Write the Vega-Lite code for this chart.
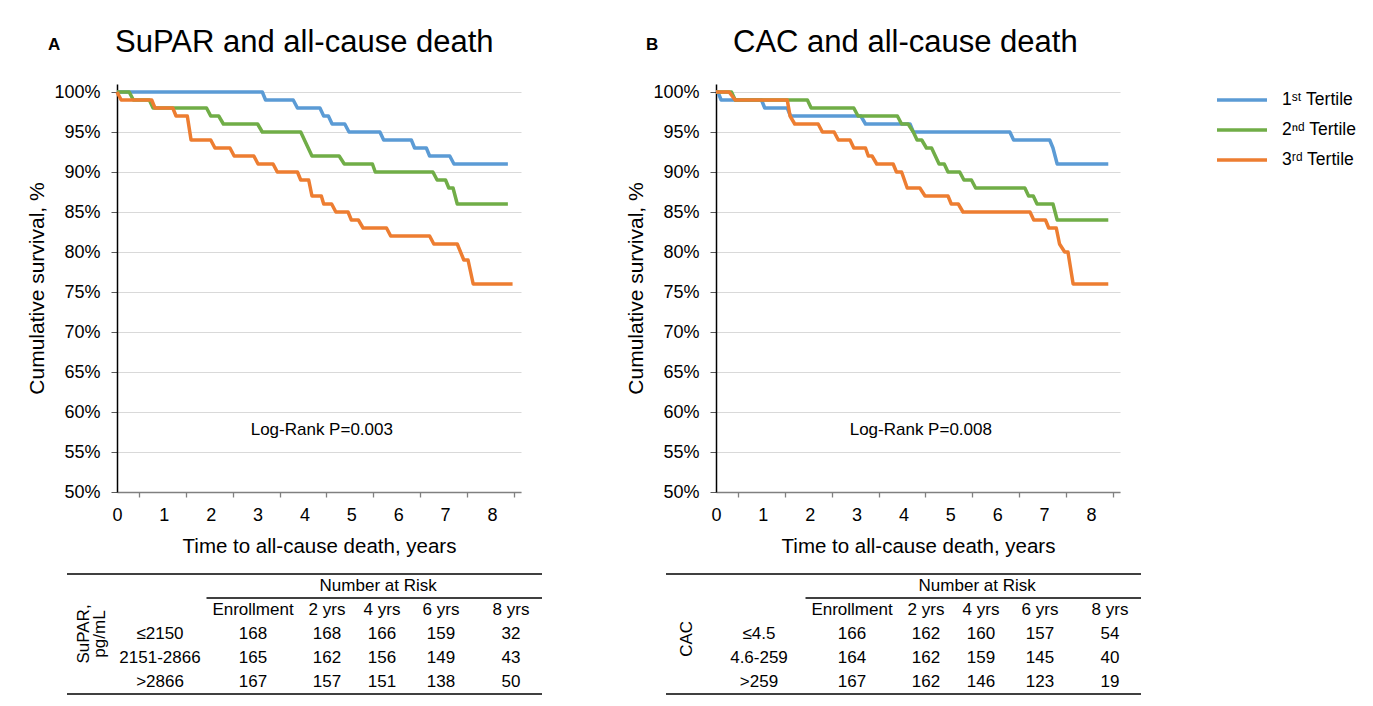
{
  "$schema": "https://vega.github.io/schema/vega-lite/v6.json",
  "background": "white",
  "padding": {"left": 26, "top": 27, "right": 0, "bottom": 0},
  "config": {"font": "Liberation Sans", "view": {"stroke": null}},
  "datasets": {
    "kmA": [
      {"g":"1st Tertile","t":0,"s":100},{"g":"1st Tertile","t":3.10,"s":100},{"g":"1st Tertile","t":3.17,"s":99},{"g":"1st Tertile","t":3.76,"s":99},{"g":"1st Tertile","t":3.85,"s":98},{"g":"1st Tertile","t":4.33,"s":98},{"g":"1st Tertile","t":4.41,"s":97},{"g":"1st Tertile","t":4.51,"s":97},{"g":"1st Tertile","t":4.59,"s":96},{"g":"1st Tertile","t":4.86,"s":96},{"g":"1st Tertile","t":4.95,"s":95},{"g":"1st Tertile","t":5.61,"s":95},{"g":"1st Tertile","t":5.69,"s":94},{"g":"1st Tertile","t":6.28,"s":94},{"g":"1st Tertile","t":6.35,"s":93},{"g":"1st Tertile","t":6.60,"s":93},{"g":"1st Tertile","t":6.67,"s":92},{"g":"1st Tertile","t":7.10,"s":92},{"g":"1st Tertile","t":7.19,"s":91},{"g":"1st Tertile","t":8.34,"s":91},
      {"g":"2nd Tertile","t":0,"s":100},{"g":"2nd Tertile","t":0.26,"s":100},{"g":"2nd Tertile","t":0.35,"s":99},{"g":"2nd Tertile","t":0.69,"s":99},{"g":"2nd Tertile","t":0.77,"s":98},{"g":"2nd Tertile","t":1.91,"s":98},{"g":"2nd Tertile","t":2.00,"s":97},{"g":"2nd Tertile","t":2.17,"s":97},{"g":"2nd Tertile","t":2.27,"s":96},{"g":"2nd Tertile","t":3.00,"s":96},{"g":"2nd Tertile","t":3.10,"s":95},{"g":"2nd Tertile","t":3.92,"s":95},{"g":"2nd Tertile","t":4.16,"s":92},{"g":"2nd Tertile","t":4.74,"s":92},{"g":"2nd Tertile","t":4.85,"s":91},{"g":"2nd Tertile","t":5.45,"s":91},{"g":"2nd Tertile","t":5.51,"s":90},{"g":"2nd Tertile","t":6.74,"s":90},{"g":"2nd Tertile","t":6.83,"s":89},{"g":"2nd Tertile","t":7.01,"s":89},{"g":"2nd Tertile","t":7.08,"s":88},{"g":"2nd Tertile","t":7.17,"s":88},{"g":"2nd Tertile","t":7.26,"s":86},{"g":"2nd Tertile","t":8.34,"s":86},
      {"g":"3rd Tertile","t":0,"s":100},{"g":"3rd Tertile","t":0.09,"s":99},{"g":"3rd Tertile","t":0.74,"s":99},{"g":"3rd Tertile","t":0.81,"s":98},{"g":"3rd Tertile","t":1.19,"s":98},{"g":"3rd Tertile","t":1.26,"s":97},{"g":"3rd Tertile","t":1.50,"s":97},{"g":"3rd Tertile","t":1.58,"s":94},{"g":"3rd Tertile","t":2.00,"s":94},{"g":"3rd Tertile","t":2.09,"s":93},{"g":"3rd Tertile","t":2.41,"s":93},{"g":"3rd Tertile","t":2.50,"s":92},{"g":"3rd Tertile","t":2.92,"s":92},{"g":"3rd Tertile","t":3.01,"s":91},{"g":"3rd Tertile","t":3.33,"s":91},{"g":"3rd Tertile","t":3.42,"s":90},{"g":"3rd Tertile","t":3.85,"s":90},{"g":"3rd Tertile","t":3.92,"s":89},{"g":"3rd Tertile","t":4.09,"s":89},{"g":"3rd Tertile","t":4.16,"s":87},{"g":"3rd Tertile","t":4.36,"s":87},{"g":"3rd Tertile","t":4.41,"s":86},{"g":"3rd Tertile","t":4.58,"s":86},{"g":"3rd Tertile","t":4.67,"s":85},{"g":"3rd Tertile","t":4.93,"s":85},{"g":"3rd Tertile","t":5.00,"s":84},{"g":"3rd Tertile","t":5.15,"s":84},{"g":"3rd Tertile","t":5.25,"s":83},{"g":"3rd Tertile","t":5.75,"s":83},{"g":"3rd Tertile","t":5.84,"s":82},{"g":"3rd Tertile","t":6.67,"s":82},{"g":"3rd Tertile","t":6.76,"s":81},{"g":"3rd Tertile","t":7.26,"s":81},{"g":"3rd Tertile","t":7.40,"s":79},{"g":"3rd Tertile","t":7.49,"s":79},{"g":"3rd Tertile","t":7.60,"s":76},{"g":"3rd Tertile","t":8.44,"s":76}
    ],
    "kmB": [
      {"g":"1st Tertile","t":0,"s":100},{"g":"1st Tertile","t":0.04,"s":100},{"g":"1st Tertile","t":0.11,"s":99},{"g":"1st Tertile","t":0.97,"s":99},{"g":"1st Tertile","t":1.04,"s":98},{"g":"1st Tertile","t":1.52,"s":98},{"g":"1st Tertile","t":1.59,"s":97},{"g":"1st Tertile","t":3.09,"s":97},{"g":"1st Tertile","t":3.19,"s":96},{"g":"1st Tertile","t":4.14,"s":96},{"g":"1st Tertile","t":4.21,"s":95},{"g":"1st Tertile","t":6.27,"s":95},{"g":"1st Tertile","t":6.35,"s":94},{"g":"1st Tertile","t":7.12,"s":94},{"g":"1st Tertile","t":7.19,"s":93},{"g":"1st Tertile","t":7.28,"s":91},{"g":"1st Tertile","t":8.37,"s":91},
      {"g":"2nd Tertile","t":0,"s":100},{"g":"2nd Tertile","t":0.33,"s":100},{"g":"2nd Tertile","t":0.41,"s":99},{"g":"2nd Tertile","t":1.95,"s":99},{"g":"2nd Tertile","t":2.03,"s":98},{"g":"2nd Tertile","t":2.94,"s":98},{"g":"2nd Tertile","t":3.03,"s":97},{"g":"2nd Tertile","t":3.87,"s":97},{"g":"2nd Tertile","t":3.96,"s":96},{"g":"2nd Tertile","t":4.10,"s":96},{"g":"2nd Tertile","t":4.21,"s":95},{"g":"2nd Tertile","t":4.29,"s":94},{"g":"2nd Tertile","t":4.39,"s":94},{"g":"2nd Tertile","t":4.49,"s":93},{"g":"2nd Tertile","t":4.60,"s":93},{"g":"2nd Tertile","t":4.76,"s":91},{"g":"2nd Tertile","t":4.87,"s":91},{"g":"2nd Tertile","t":4.95,"s":90},{"g":"2nd Tertile","t":5.20,"s":90},{"g":"2nd Tertile","t":5.29,"s":89},{"g":"2nd Tertile","t":5.45,"s":89},{"g":"2nd Tertile","t":5.54,"s":88},{"g":"2nd Tertile","t":6.59,"s":88},{"g":"2nd Tertile","t":6.67,"s":87},{"g":"2nd Tertile","t":6.77,"s":87},{"g":"2nd Tertile","t":6.85,"s":86},{"g":"2nd Tertile","t":7.19,"s":86},{"g":"2nd Tertile","t":7.28,"s":84},{"g":"2nd Tertile","t":8.37,"s":84},
      {"g":"3rd Tertile","t":0,"s":100},{"g":"3rd Tertile","t":0.28,"s":100},{"g":"3rd Tertile","t":0.41,"s":99},{"g":"3rd Tertile","t":1.52,"s":99},{"g":"3rd Tertile","t":1.58,"s":97},{"g":"3rd Tertile","t":1.68,"s":96},{"g":"3rd Tertile","t":2.18,"s":96},{"g":"3rd Tertile","t":2.27,"s":95},{"g":"3rd Tertile","t":2.52,"s":95},{"g":"3rd Tertile","t":2.61,"s":94},{"g":"3rd Tertile","t":2.86,"s":94},{"g":"3rd Tertile","t":2.94,"s":93},{"g":"3rd Tertile","t":3.19,"s":93},{"g":"3rd Tertile","t":3.25,"s":92},{"g":"3rd Tertile","t":3.33,"s":92},{"g":"3rd Tertile","t":3.43,"s":91},{"g":"3rd Tertile","t":3.78,"s":91},{"g":"3rd Tertile","t":3.85,"s":90},{"g":"3rd Tertile","t":3.96,"s":90},{"g":"3rd Tertile","t":4.08,"s":88},{"g":"3rd Tertile","t":4.35,"s":88},{"g":"3rd Tertile","t":4.46,"s":87},{"g":"3rd Tertile","t":4.95,"s":87},{"g":"3rd Tertile","t":5.02,"s":86},{"g":"3rd Tertile","t":5.17,"s":86},{"g":"3rd Tertile","t":5.27,"s":85},{"g":"3rd Tertile","t":6.70,"s":85},{"g":"3rd Tertile","t":6.78,"s":84},{"g":"3rd Tertile","t":7.03,"s":84},{"g":"3rd Tertile","t":7.10,"s":83},{"g":"3rd Tertile","t":7.26,"s":83},{"g":"3rd Tertile","t":7.33,"s":81},{"g":"3rd Tertile","t":7.44,"s":80},{"g":"3rd Tertile","t":7.51,"s":80},{"g":"3rd Tertile","t":7.62,"s":76},{"g":"3rd Tertile","t":8.37,"s":76}
    ],
    "riskA": [
      {"row":1,"col":1,"v":"Enrollment"},{"row":1,"col":2,"v":"2 yrs"},{"row":1,"col":3,"v":"4 yrs"},{"row":1,"col":4,"v":"6 yrs"},{"row":1,"col":5,"v":"8 yrs"},
      {"row":2,"col":0,"v":"≤2150"},{"row":2,"col":1,"v":"168"},{"row":2,"col":2,"v":"168"},{"row":2,"col":3,"v":"166"},{"row":2,"col":4,"v":"159"},{"row":2,"col":5,"v":"32"},
      {"row":3,"col":0,"v":"2151-2866"},{"row":3,"col":1,"v":"165"},{"row":3,"col":2,"v":"162"},{"row":3,"col":3,"v":"156"},{"row":3,"col":4,"v":"149"},{"row":3,"col":5,"v":"43"},
      {"row":4,"col":0,"v":">2866"},{"row":4,"col":1,"v":"167"},{"row":4,"col":2,"v":"157"},{"row":4,"col":3,"v":"151"},{"row":4,"col":4,"v":"138"},{"row":4,"col":5,"v":"50"}
    ],
    "riskB": [
      {"row":1,"col":1,"v":"Enrollment"},{"row":1,"col":2,"v":"2 yrs"},{"row":1,"col":3,"v":"4 yrs"},{"row":1,"col":4,"v":"6 yrs"},{"row":1,"col":5,"v":"8 yrs"},
      {"row":2,"col":0,"v":"≤4.5"},{"row":2,"col":1,"v":"166"},{"row":2,"col":2,"v":"162"},{"row":2,"col":3,"v":"160"},{"row":2,"col":4,"v":"157"},{"row":2,"col":5,"v":"54"},
      {"row":3,"col":0,"v":"4.6-259"},{"row":3,"col":1,"v":"164"},{"row":3,"col":2,"v":"162"},{"row":3,"col":3,"v":"159"},{"row":3,"col":4,"v":"145"},{"row":3,"col":5,"v":"40"},
      {"row":4,"col":0,"v":">259"},{"row":4,"col":1,"v":"167"},{"row":4,"col":2,"v":"162"},{"row":4,"col":3,"v":"146"},{"row":4,"col":4,"v":"123"},{"row":4,"col":5,"v":"19"}
    ]
  },
  "spacing": 82,
  "resolve": {"scale": {"color": "shared", "x": "independent", "y": "independent"}, "legend": {"color": "shared"}},
  "hconcat": [
    {
      "title": {"text": "A", "anchor": "start", "fontSize": 17, "fontWeight": "bold", "color": "black", "dx": 21, "dy": 31},
      "spacing": 16,
      "resolve": {"scale": {"color": "shared", "x": "independent", "y": "independent"}},
      "vconcat": [
        {
          "width": 404, "height": 408,
          "title": {"text": "SuPAR and all-cause death", "anchor": "start", "frame": "group", "fontSize": 31, "fontWeight": "normal", "color": "black", "offset": 24, "dx": -2},
          "resolve": {"axis": {"x": "independent"}},
          "layer": [
            {
              "data": {"name": "kmA"},
              "mark": {"type": "line", "strokeWidth": 3.5, "strokeJoin": "round"},
              "encoding": {
                "x": {"field": "t", "type": "quantitative", "scale": {"domain": [0, 8.62], "nice": false, "zero": false},
                  "axis": {"values": [0,1,2,3,4,5,6,7,8], "format": "d", "ticks": false, "tickSize": 0, "labelFontSize": 18, "labelColor": "black", "labelPadding": 14, "labelFlush": false, "labelOverlap": false, "domainColor": "#808080", "domainWidth": 1.5, "grid": false, "title": "Time to all-cause death, years", "titleFontSize": 20.5, "titleFontWeight": "normal", "titleColor": "black", "titlePadding": 12}},
                "y": {"field": "s", "type": "quantitative", "scale": {"domain": [50, 101], "nice": false, "zero": false},
                  "axis": {"values": [50,55,60,65,70,75,80,85,90,95,100], "labelExpr": "datum.value + '%'", "labelFontSize": 18, "labelColor": "black", "labelPadding": 11, "labelFlush": false, "tickSize": 6, "tickColor": "#595959", "domainColor": "black", "domainWidth": 1.5, "grid": true, "gridColor": "#D9D9D9", "gridWidth": 1.2, "title": "Cumulative survival, %", "titleFontSize": 21, "titleFontWeight": "normal", "titleColor": "black", "titlePadding": 6}},
                "color": {"field": "g", "type": "nominal",
                  "scale": {"domain": ["1st Tertile", "2nd Tertile", "3rd Tertile"], "range": ["#5B9BD5", "#70AD47", "#ED7D31"]},
                  "legend": {"orient": "none", "legendX": 1113, "legendY": 4, "title": null, "padding": 0, "symbolType": "M-2.5,0H2.5", "symbolSize": 400, "symbolStrokeWidth": 3.5, "labelFontSize": 17.5, "labelColor": "black", "labelOffset": 28, "rowPadding": 9,
                    "labelExpr": "datum.label == '1st Tertile' ? '1ˢᵗ Tertile' : datum.label == '2nd Tertile' ? '2ⁿᵈ Tertile' : '3ʳᵈ Tertile'",
                    "encode": {"symbols": {"update": {"stroke": [{"test": "datum.value === '1st Tertile'", "value": "#4472C4"}, {"scale": "color", "field": "value"}]}}}}}
              }
            },
            {
              "data": {"values": [{"label": "Log-Rank P=0.003"}]},
              "mark": {"type": "text", "fontSize": 17, "color": "black", "align": "center", "baseline": "middle"},
              "encoding": {
                "x": {"datum": 4.37, "type": "quantitative", "axis": {"orient": "bottom", "values": [0.47,1.47,2.47,3.47,4.47,5.47,6.47,7.47,8.47], "labels": false, "domain": false, "grid": false, "ticks": true, "tickSize": 5, "tickColor": "#808080", "tickWidth": 1.3, "title": null}},
                "y": {"datum": 57.75, "type": "quantitative"},
                "text": {"field": "label"}
              }
            }
          ]
        },
        {
          "width": 425, "height": 120,
          "layer": [
            {
              "data": {"name": "riskA"},
              "mark": {"type": "text", "fontSize": 17, "color": "black", "align": "center", "baseline": "middle"},
              "encoding": {
                "x": {"field": "col", "type": "quantitative", "scale": {"domain": [-1,0,1,2,3,4,5,6], "range": [-50,43,136,210,265,324,394,425], "zero": false, "nice": false}, "axis": null},
                "y": {"field": "row", "type": "ordinal", "bandPosition": 0.5, "scale": {"type": "band", "domain": [0,1,2,3,4], "paddingInner": 0, "paddingOuter": 0}, "axis": null},
                "text": {"field": "v"}
              }
            },
            {
              "data": {"values": [{}]},
              "mark": {"type": "text", "fontSize": 17, "color": "black", "align": "center", "baseline": "middle"},
              "encoding": {"x": {"datum": 2.93, "type": "quantitative"}, "y": {"datum": 0, "type": "ordinal", "bandPosition": 0.5}, "text": {"value": "Number at Risk"}}
            },
            {
              "data": {"values": [{}]},
              "mark": {"type": "text", "fontSize": 17, "color": "black", "align": "center", "baseline": "middle", "angle": 270, "lineBreak": "\n", "lineHeight": 16},
              "encoding": {"x": {"datum": -0.82, "type": "quantitative"}, "y": {"datum": 2, "type": "ordinal", "bandPosition": 0.5}, "text": {"value": "SuPAR,\npg/mL"}}
            },
            {
              "data": {"values": [{}]},
              "mark": {"type": "rule", "color": "black", "strokeWidth": 1.5},
              "encoding": {"x": {"datum": -1, "type": "quantitative"}, "x2": {"datum": 6}, "y": {"datum": 0, "type": "ordinal", "bandPosition": 0}}
            },
            {
              "data": {"values": [{}]},
              "mark": {"type": "rule", "color": "black", "strokeWidth": 1.3},
              "encoding": {"x": {"datum": 0.5, "type": "quantitative"}, "x2": {"datum": 6}, "y": {"datum": 1, "type": "ordinal", "bandPosition": 0}}
            },
            {
              "data": {"values": [{}]},
              "mark": {"type": "rule", "color": "black", "strokeWidth": 1.5},
              "encoding": {"x": {"datum": -1, "type": "quantitative"}, "x2": {"datum": 6}, "y": {"datum": 4, "type": "ordinal", "bandPosition": 1}}
            }
          ]
        }
      ]
    },
    {
      "title": {"text": "B", "anchor": "start", "fontSize": 17, "fontWeight": "bold", "color": "black", "dx": 20, "dy": 31},
      "spacing": 16,
      "resolve": {"scale": {"color": "shared", "x": "independent", "y": "independent"}},
      "vconcat": [
        {
          "width": 404, "height": 408,
          "title": {"text": "CAC and all-cause death", "anchor": "start", "frame": "group", "fontSize": 31, "fontWeight": "normal", "color": "black", "offset": 24, "dx": 17},
          "resolve": {"axis": {"x": "independent"}},
          "layer": [
            {
              "data": {"name": "kmB"},
              "mark": {"type": "line", "strokeWidth": 3.5, "strokeJoin": "round"},
              "encoding": {
                "x": {"field": "t", "type": "quantitative", "scale": {"domain": [0, 8.62], "nice": false, "zero": false},
                  "axis": {"values": [0,1,2,3,4,5,6,7,8], "format": "d", "ticks": false, "tickSize": 0, "labelFontSize": 18, "labelColor": "black", "labelPadding": 14, "labelFlush": false, "labelOverlap": false, "domainColor": "#808080", "domainWidth": 1.5, "grid": false, "title": "Time to all-cause death, years", "titleFontSize": 20.5, "titleFontWeight": "normal", "titleColor": "black", "titlePadding": 12}},
                "y": {"field": "s", "type": "quantitative", "scale": {"domain": [50, 101], "nice": false, "zero": false},
                  "axis": {"values": [50,55,60,65,70,75,80,85,90,95,100], "labelExpr": "datum.value + '%'", "labelFontSize": 18, "labelColor": "black", "labelPadding": 11, "labelFlush": false, "tickSize": 6, "tickColor": "#595959", "domainColor": "black", "domainWidth": 1.5, "grid": true, "gridColor": "#D9D9D9", "gridWidth": 1.2, "title": "Cumulative survival, %", "titleFontSize": 21, "titleFontWeight": "normal", "titleColor": "black", "titlePadding": 6}},
                "color": {"field": "g", "type": "nominal",
                  "scale": {"domain": ["1st Tertile", "2nd Tertile", "3rd Tertile"], "range": ["#5B9BD5", "#70AD47", "#ED7D31"]},
                  "legend": {"orient": "none", "legendX": 1113, "legendY": 4, "title": null, "padding": 0, "symbolType": "M-2.5,0H2.5", "symbolSize": 400, "symbolStrokeWidth": 3.5, "labelFontSize": 17.5, "labelColor": "black", "labelOffset": 28, "rowPadding": 9,
                    "labelExpr": "datum.label == '1st Tertile' ? '1ˢᵗ Tertile' : datum.label == '2nd Tertile' ? '2ⁿᵈ Tertile' : '3ʳᵈ Tertile'",
                    "encode": {"symbols": {"update": {"stroke": [{"test": "datum.value === '1st Tertile'", "value": "#4472C4"}, {"scale": "color", "field": "value"}]}}}}}
              }
            },
            {
              "data": {"values": [{"label": "Log-Rank P=0.008"}]},
              "mark": {"type": "text", "fontSize": 17, "color": "black", "align": "center", "baseline": "middle"},
              "encoding": {
                "x": {"datum": 4.37, "type": "quantitative", "axis": {"orient": "bottom", "values": [0.47,1.47,2.47,3.47,4.47,5.47,6.47,7.47,8.47], "labels": false, "domain": false, "grid": false, "ticks": true, "tickSize": 5, "tickColor": "#808080", "tickWidth": 1.3, "title": null}},
                "y": {"datum": 57.75, "type": "quantitative"},
                "text": {"field": "label"}
              }
            }
          ]
        },
        {
          "width": 425, "height": 120,
          "layer": [
            {
              "data": {"name": "riskB"},
              "mark": {"type": "text", "fontSize": 17, "color": "black", "align": "center", "baseline": "middle"},
              "encoding": {
                "x": {"field": "col", "type": "quantitative", "scale": {"domain": [-1,0,1,2,3,4,5,6], "range": [-50,43,136,210,265,324,394,425], "zero": false, "nice": false}, "axis": null},
                "y": {"field": "row", "type": "ordinal", "bandPosition": 0.5, "scale": {"type": "band", "domain": [0,1,2,3,4], "paddingInner": 0, "paddingOuter": 0}, "axis": null},
                "text": {"field": "v"}
              }
            },
            {
              "data": {"values": [{}]},
              "mark": {"type": "text", "fontSize": 17, "color": "black", "align": "center", "baseline": "middle"},
              "encoding": {"x": {"datum": 2.93, "type": "quantitative"}, "y": {"datum": 0, "type": "ordinal", "bandPosition": 0.5}, "text": {"value": "Number at Risk"}}
            },
            {
              "data": {"values": [{}]},
              "mark": {"type": "text", "fontSize": 17, "color": "black", "align": "center", "baseline": "middle", "angle": 270},
              "encoding": {"x": {"datum": -0.77, "type": "quantitative"}, "y": {"datum": 2, "type": "ordinal", "bandPosition": 0.7}, "text": {"value": "CAC"}}
            },
            {
              "data": {"values": [{}]},
              "mark": {"type": "rule", "color": "black", "strokeWidth": 1.5},
              "encoding": {"x": {"datum": -1, "type": "quantitative"}, "x2": {"datum": 6}, "y": {"datum": 0, "type": "ordinal", "bandPosition": 0}}
            },
            {
              "data": {"values": [{}]},
              "mark": {"type": "rule", "color": "black", "strokeWidth": 1.3},
              "encoding": {"x": {"datum": 0.5, "type": "quantitative"}, "x2": {"datum": 6}, "y": {"datum": 1, "type": "ordinal", "bandPosition": 0}}
            },
            {
              "data": {"values": [{}]},
              "mark": {"type": "rule", "color": "black", "strokeWidth": 1.5},
              "encoding": {"x": {"datum": -1, "type": "quantitative"}, "x2": {"datum": 6}, "y": {"datum": 4, "type": "ordinal", "bandPosition": 1}}
            }
          ]
        }
      ]
    }
  ]
}
